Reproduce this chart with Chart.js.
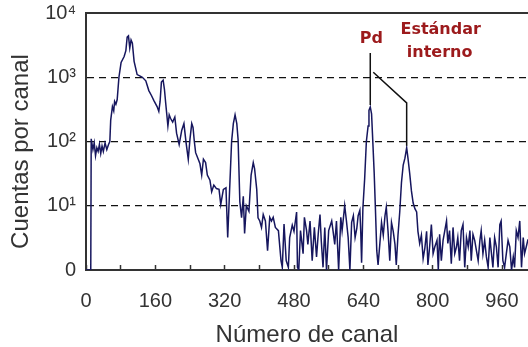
<!DOCTYPE html>
<html>
<head>
<meta charset="utf-8">
<script src="https://cdn.jsdelivr.net/npm/chart.js@4.4.1/dist/chart.umd.min.js"></script>
<style>
  html, body { margin: 0; padding: 0; background: #fff; }
  #wrap { width: 528px; height: 347px; }
</style>
</head>
<body>
<div id="wrap"><canvas id="myChart"></canvas></div>
<script>
// channel numbers and counts
const channels = [
  0, 11, 12, 16, 19, 22, 25, 28, 31, 34, 37, 40, 44, 48, 52, 55, 57, 61, 64, 66,
  69, 72, 76, 81, 88, 92, 95, 98, 101, 104, 107, 111, 118, 124, 130, 138, 145, 151, 157, 164,
  168, 171, 174, 178, 181, 184, 189, 192, 195, 200, 205, 209, 215, 221, 226, 231, 236, 240, 244, 247,
  250, 253, 259, 263, 267, 271, 276, 280, 286, 290, 295, 301, 307, 311, 317, 323, 327, 331, 336, 340,
  344, 348, 351, 355, 359, 363, 366, 370, 376, 381, 386, 389, 394, 397, 401, 405, 409, 414, 419, 424,
  428, 432, 437, 444, 450, 453, 457, 462, 467, 470, 476, 480, 486, 488, 491, 495, 501, 504, 509, 512,
  517, 522, 527, 532, 536, 540, 543, 547, 551, 555, 560, 567, 570, 574, 578, 583, 588, 591, 597, 601,
  605, 609, 613, 617, 621, 625, 628, 632, 634, 636, 639, 643, 647, 651, 653, 656, 659, 661, 665, 668,
  671, 674, 678, 682, 686, 690, 693, 697, 701, 705, 709, 713, 716, 720, 724, 728, 732, 736, 740, 743,
  747, 751, 755, 759, 763, 766, 770, 774, 778, 782, 786, 789, 793, 797, 801, 805, 810, 813, 816, 820,
  824, 828, 832, 835, 839, 843, 847, 851, 855, 858, 862, 866, 870, 874, 878, 882, 886, 889, 893, 897,
  901, 905, 909, 912, 916, 920, 924, 928, 932, 935, 939, 943, 947, 951, 955, 958, 962, 966, 970, 974,
  978, 982, 986, 989, 993, 997, 1001, 1005, 1009, 1012, 1016, 1020
];
const counts = [
  1, 1, 110, 75, 95, 60, 80, 70, 90, 65, 85, 70, 95, 75, 90, 100, 215, 350, 300, 420,
  380, 450, 1000, 1700, 2100, 2600, 4200, 4400, 2850, 3800, 3400, 1770, 1100, 1050, 1000, 880, 620, 520, 430, 350,
  295, 420, 840, 900, 650, 390, 175, 260, 230, 200, 240, 135, 90, 150, 190, 95, 53, 110, 190, 165,
  100, 67, 53, 45, 30, 53, 47, 30, 25, 16.5, 21, 18.5, 18, 10.5, 18, 19, 3.2, 15, 100, 190,
  260, 190, 107, 11.6, 6.5, 14, 3.7, 10, 8.2, 30, 47, 38, 18, 6.5, 5.8, 4.6, 7.3, 5.8, 2, 6.6,
  5.8, 6.6, 4.6, 4.1, 1.4, 1.1, 5.2, 1.4, 1.1, 3.2, 5, 4, 8, 1.1, 1, 4.1, 1.8, 6.6, 4.1, 2.5,
  5.8, 1.4, 4.6, 1.6, 3.7, 7.3, 2.8, 1.1, 4.6, 1, 4.1, 5.8, 4.1, 2.5, 5.8, 1, 6.6, 4.1, 10, 5.8,
  3.2, 1, 5.5, 7, 3.2, 4.5, 7, 8.5, 4, 1.3, 9.2, 26, 100, 175, 305, 345, 270, 135, 33, 8.5,
  2, 1.2, 2.5, 5.5, 3.5, 7, 9.5, 4, 1.4, 5.5, 4, 2.5, 1.2, 3.5, 8, 23, 43, 55, 80, 55,
  32, 17, 11, 9, 8, 4, 2.6, 3.5, 1.5, 2.2, 4, 1.2, 2.3, 5.1, 1.8, 2.3, 2.9, 1, 3.6, 1.4,
  2.9, 4.1, 5.8, 2.6, 4.1, 1.25, 4.6, 1.8, 2.3, 3.2, 1.4, 4.1, 5.1, 1.1, 3.2, 2.3, 4.1, 1.4, 3.6, 2.9,
  2, 1.4, 2.9, 4.1, 1.8, 2.9, 1.6, 1.1, 3.2, 2, 1.1, 3.2, 2.3, 1.1, 5.1, 5.8, 1.4, 1.1, 1.8, 2.9,
  2.3, 1, 1.6, 1.1, 4.1, 3.2, 5.8, 1.1, 3.2, 1.8, 2.3, 3
];

const xTickValues = [0, 80, 160, 240, 320, 400, 480, 560, 640, 720, 800, 880, 960];
const xTickLabels = ["0", "", "160", "", "320", "", "480", "", "640", "", "800", "", "960"];
const yTickValues = [1, 10, 100, 1000, 10000];
const yTickLabels = ["0", "10¹", "10²", "10³", "10⁴"];

// labelled peaks
const peakChannels = [656, 740];
const peakCounts = [345, 80];
const peakLabels = [["Pd"], ["Estándar", "interno"]];

const ctx = document.querySelector("#myChart").getContext("2d");

//leader lines, peak names and top frame line
const peakNotes = {
  id: "peakNotes",
  afterDatasetsDraw(chart) {
    const { ctx, chartArea, scales: { x, y } } = chart;
    const pdX = x.getPixelForValue(peakChannels[0]);
    const stdX = x.getPixelForValue(peakChannels[1]);
    const pdTop = y.getPixelForValue(peakCounts[0]);
    const stdTop = y.getPixelForValue(peakCounts[1]);
    const knee = y.getPixelForValue(1000);
    ctx.save();
    ctx.strokeStyle = "#333";
    ctx.lineWidth = 2;
    ctx.beginPath();
    ctx.moveTo(chartArea.left, chartArea.top);
    ctx.lineTo(chartArea.right, chartArea.top);
    ctx.stroke();

    ctx.strokeStyle = "#111";
    ctx.lineWidth = 1.5;
    ctx.beginPath();
    ctx.moveTo(pdX, chartArea.top + 40);
    ctx.lineTo(pdX, pdTop - 2);
    ctx.moveTo(pdX + 3, knee - 5);
    ctx.lineTo(stdX, pdTop - 4);
    ctx.lineTo(stdX, stdTop - 2);
    ctx.stroke();

    ctx.fillStyle = "#9c1a1c";
    ctx.font = "bold 16px 'DejaVu Sans'";
    ctx.textAlign = "center";
    ctx.textBaseline = "middle";
    ctx.fillText(peakLabels[0][0], pdX + 1, chartArea.top + 26);
    ctx.fillText(peakLabels[1][0], stdX + 34, chartArea.top + 17);
    ctx.fillText(peakLabels[1][1], stdX + 33, chartArea.top + 40);
    ctx.restore();
  },
};

const data = {
  datasets: [
    {
      data: channels.map((c, i) => ({ x: c, y: counts[i] })),
      borderColor: "#16165e",
      borderWidth: 1.5,
      pointRadius: 0,
      tension: 0,
      fill: false,
    },
  ],
};

const config = {
  type: "line",
  data: data,
  options: {
    responsive: true,
    maintainAspectRatio: false,
    animation: false,
    layout: { autoPadding: false, padding: { top: 13, right: 0, left: 0, bottom: 0 } },
    plugins: {
      legend: { display: false },
      tooltip: { enabled: false },
    },
    scales: {
      x: {
        type: "linear",
        min: 0,
        max: 1020,
        afterBuildTicks: (scale) => {
          scale.ticks = xTickValues.map((v) => ({ value: v }));
        },
        afterFit: (scale) => {
          scale.height = 77;
          scale.paddingLeft = 0;
          scale.paddingRight = 0;
        },
        ticks: {
          autoSkip: false,
          maxRotation: 0,
          padding: 24,
          color: "#333",
          font: { family: "'Liberation Sans'", size: 20 },
          callback: (value) => xTickLabels[xTickValues.indexOf(value)],
        },
        grid: {
          drawOnChartArea: false,
          tickLength: -5,
          tickColor: "#333",
          tickWidth: 1.5,
        },
        border: { color: "#333", width: 2 },
        title: {
          display: true,
          text: "Número de canal",
          color: "#333",
          font: { family: "'Liberation Sans'", size: 24, lineHeight: 1 },
          padding: 0,
        },
      },
      y: {
        type: "logarithmic",
        min: 1,
        max: 10000,
        afterBuildTicks: (scale) => {
          scale.ticks = yTickValues.map((v) => ({ value: v }));
        },
        afterFit: (scale) => {
          scale.width = 86;
          scale.paddingTop = 0;
          scale.paddingBottom = 0;
        },
        ticks: {
          padding: 10,
          color: "#333",
          font: { family: "'Liberation Sans'", size: 20 },
          callback: (value) => yTickLabels[yTickValues.indexOf(value)],
        },
        grid: {
          drawTicks: false,
          lineWidth: 1.3,
          color: (c) =>
            c.tick && (c.tick.value === 1 || c.tick.value === 10000)
              ? "rgba(0,0,0,0)"
              : "#111",
        },
        border: { color: "#333", width: 2, dash: [7, 5] },
        title: {
          display: true,
          // trailing spaces nudge the title a bit lower, like the original
          text: "Cuentas por canal   ",
          color: "#333",
          font: { family: "'Liberation Sans'", size: 24, lineHeight: 1 },
          padding: { top: 9, bottom: 0 },
        },
      },
    },
  },
  plugins: [peakNotes],
};

const myChart = new Chart(ctx, config);
</script>
</body>
</html>
